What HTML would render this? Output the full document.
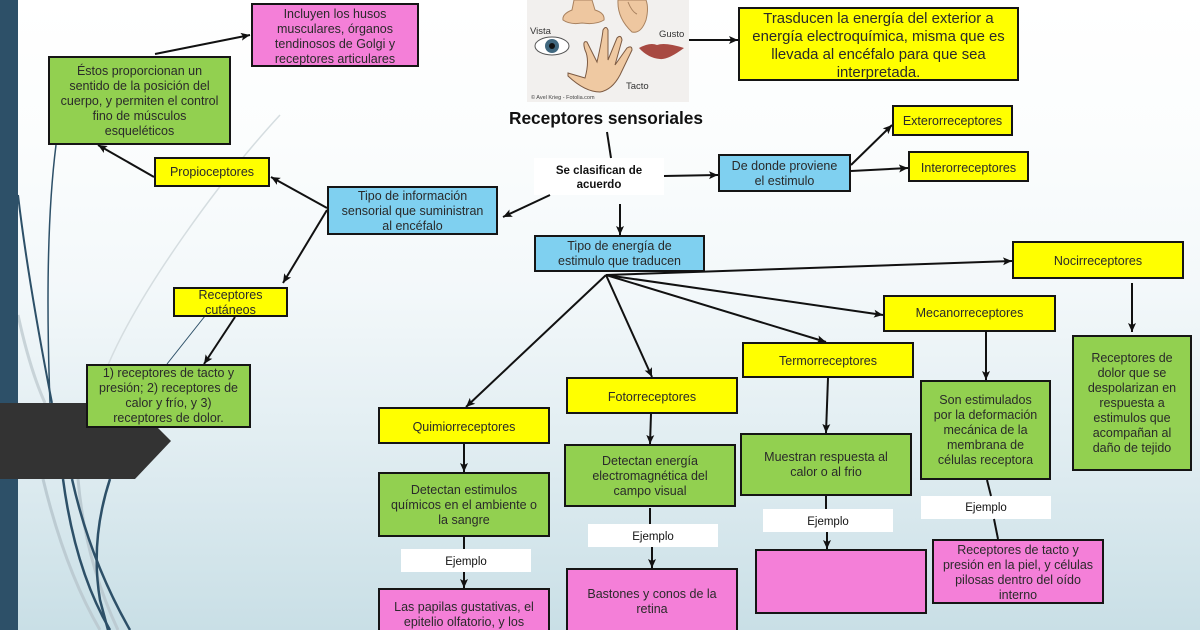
<!DOCTYPE html>
<html><head><meta charset="utf-8"><style>
html,body{margin:0;padding:0}
#p{position:relative;width:1200px;height:630px;overflow:hidden;background:linear-gradient(to bottom,#ffffff 0,#fbfdfd 140px,#f3f8fa 290px,#e4eff3 420px,#c9dfe6 630px);font-family:"Liberation Sans",sans-serif;color:#2a2a2a}
svg{position:absolute;left:0;top:0}
.b{position:absolute;box-sizing:border-box;border:2px solid #151515;display:flex;align-items:center;justify-content:center;text-align:center;font-size:12.5px;line-height:15px;padding:1px 0 0;white-space:nowrap}
.y{background:#ffff00}.g{background:#92d050}.m{background:#f47fd8}.c{background:#7fd0f0}
.w{background:#fff;border:0;color:#111}
</style></head><body><div id="p">
<svg width="1200" height="630" style="z-index:1">
<g fill="none">
<path d="M280 115C220 180 140 290 108 365" stroke="#d5dde0" stroke-width="1.5"/>
<path d="M18 315Q30 370 45 403" stroke="#c8d3d8" stroke-width="3"/>
<path d="M43 479Q65 570 100 630" stroke="#bccbd2" stroke-width="3"/>
<path d="M78 479Q85 560 118 630" stroke="#bccbd2" stroke-width="3"/>
<path d="M18 195Q28 280 52 403" stroke="#2d5068" stroke-width="2"/>
<path d="M56 145Q44 240 50 403" stroke="#2d5068" stroke-width="1.5"/>
<path d="M205 316L167 364" stroke="#2d5068" stroke-width="1"/>
<path d="M63 479Q75 570 110 630" stroke="#2d5068" stroke-width="2.5"/>
<path d="M72 479Q90 560 130 630" stroke="#2d5068" stroke-width="2.5"/>
<path d="M110 479Q90 540 100 600L108 630" stroke="#2d5068" stroke-width="2.5"/>
</g>
<rect x="0" y="0" width="18" height="630" fill="#2d5068"/>
<polygon points="0,403 133,403 171,441 135,479 0,479" fill="#333333"/>
</svg>
<svg width="1200" height="630" style="z-index:2">
<rect x="527" y="0" width="162" height="102" fill="#f2f0ee"/>
<path d="M574 0L572 10Q562 14 563 20Q570 25 582 23Q596 25 604 20Q605 13 595 10L592 0Z" fill="#eec7a0" stroke="#a9825f"/>
<path d="M618 0Q617 18 632 32Q641 34 646 20Q649 8 646 0Z" fill="#eec7a0" stroke="#a9825f"/>
<path d="M628 2Q632 12 637 14" fill="none" stroke="#a9825f"/>
<path d="M568 73L585 78Q590 60 585 50Q582 40 587 42L597 62Q602 40 603 30Q606 25 608 30L608 60L617 38Q621 34 622 40L615 65L627 48Q632 45 632 50L620 75Q612 90 600 92Q585 92 568 76Z" fill="#efc9a2" stroke="#7c5a42"/>
<ellipse cx="552" cy="46" rx="17" ry="9" fill="#fff" stroke="#555"/>
<circle cx="552" cy="46" r="7" fill="#41687f"/><circle cx="552" cy="46" r="3" fill="#111"/>
<path d="M639 48Q650 42 657 45Q665 42 684 48Q668 60 660 59Q648 58 639 48Z" fill="#a84a42"/>
<text x="530" y="34" font-size="9.5" fill="#333">Vista</text>
<text x="659" y="37" font-size="9.5" fill="#333">Gusto</text>
<text x="626" y="89" font-size="9.5" fill="#333">Tacto</text>
<text x="531" y="99" font-size="5.5" fill="#444">© Avel Krieg - Fotolia.com</text>
</svg>
<div class="b m" style="z-index:3;left:251px;top:3px;width:168px;height:64px;padding-top:3px">Incluyen los husos<br>musculares, órganos<br>tendinosos de Golgi y<br>receptores articulares</div>
<div class="b g" style="z-index:3;left:48px;top:56px;width:183px;height:89px">Éstos proporcionan un<br>sentido de la posición del<br>cuerpo, y permiten el control<br>fino de músculos<br>esqueléticos</div>
<div class="b y" style="z-index:3;left:154px;top:157px;width:116px;height:30px">Propioceptores</div>
<div class="b y" style="z-index:3;left:173px;top:287px;width:115px;height:30px;padding-top:1px">Receptores<br>cutáneos</div>
<div class="b g" style="z-index:3;left:86px;top:364px;width:165px;height:64px;padding:0 0 1px">1) receptores de tacto y<br>presión; 2) receptores de<br>calor y frío, y 3)<br>receptores de dolor.</div>
<div class="b c" style="z-index:3;left:327px;top:186px;width:171px;height:49px">Tipo de información<br>sensorial que suministran<br>al encéfalo</div>
<div class="b w" style="z-index:3;left:534px;top:158px;width:130px;height:37px;font-size:11.5px;font-weight:700;line-height:14.5px;padding-top:3px">Se clasifican de<br>acuerdo</div>
<div class="b c" style="z-index:3;left:718px;top:154px;width:133px;height:38px">De donde proviene<br>el estimulo</div>
<div class="b y" style="z-index:3;left:892px;top:105px;width:121px;height:31px">Exterorreceptores</div>
<div class="b y" style="z-index:3;left:908px;top:151px;width:121px;height:31px;padding-top:3px">Interorreceptores</div>
<div class="b c" style="z-index:3;left:534px;top:235px;width:171px;height:37px">Tipo de energía de<br>estimulo que traducen</div>
<div class="b y" style="z-index:3;left:1012px;top:241px;width:172px;height:38px;padding-top:3px">Nocirreceptores</div>
<div class="b y" style="z-index:3;left:883px;top:295px;width:173px;height:37px;padding:0 0 1px">Mecanorreceptores</div>
<div class="b y" style="z-index:3;left:742px;top:342px;width:172px;height:36px;padding-top:3px">Termorreceptores</div>
<div class="b y" style="z-index:3;left:566px;top:377px;width:172px;height:37px;padding-top:3px">Fotorreceptores</div>
<div class="b y" style="z-index:3;left:378px;top:407px;width:172px;height:37px;padding-top:3px">Quimiorreceptores</div>
<div class="b g" style="z-index:3;left:378px;top:472px;width:172px;height:65px">Detectan estimulos<br>químicos en el ambiente o<br>la sangre</div>
<div class="b w" style="z-index:3;left:401px;top:549px;width:130px;height:23px;font-size:11.5px;padding-top:4px">Ejemplo</div>
<div class="b m" style="z-index:3;left:378px;top:588px;width:172px;height:60px;align-items:flex-start;padding:10px 0 0">Las papilas gustativas, el<br>epitelio olfatorio, y los</div>
<div class="b g" style="z-index:3;left:564px;top:444px;width:172px;height:63px">Detectan energía<br>electromagnética del<br>campo visual</div>
<div class="b w" style="z-index:3;left:588px;top:524px;width:130px;height:23px;font-size:11.5px;padding-top:4px">Ejemplo</div>
<div class="b m" style="z-index:3;left:566px;top:568px;width:172px;height:80px;align-items:flex-start;padding:17px 0 0">Bastones y conos de la<br>retina</div>
<div class="b g" style="z-index:3;left:740px;top:433px;width:172px;height:63px;align-items:flex-start;padding:15px 0 0">Muestran respuesta al<br>calor o al frio</div>
<div class="b w" style="z-index:3;left:763px;top:509px;width:130px;height:23px;font-size:11.5px;padding-top:4px">Ejemplo</div>
<div class="b m" style="z-index:3;left:755px;top:549px;width:172px;height:65px"></div>
<div class="b g" style="z-index:3;left:920px;top:380px;width:131px;height:100px">Son estimulados<br>por la deformación<br>mecánica de la<br>membrana de<br>células receptora</div>
<div class="b w" style="z-index:3;left:921px;top:496px;width:130px;height:23px;font-size:11.5px;padding-top:2px">Ejemplo</div>
<div class="b m" style="z-index:3;left:932px;top:539px;width:172px;height:65px;padding-top:3px">Receptores de tacto y<br>presión en la piel, y células<br>pilosas dentro del oído<br>interno</div>
<div class="b g" style="z-index:3;left:1072px;top:335px;width:120px;height:136px">Receptores de<br>dolor que se<br>despolarizan en<br>respuesta a<br>estimulos que<br>acompañan al<br>daño de tejido</div>
<div class="b y" style="z-index:3;left:738px;top:7px;width:281px;height:74px;font-size:14.9px;line-height:18px;padding:3px 0 0">Trasducen la energía del exterior a<br>energía electroquímica, misma que es<br>llevada al encéfalo para que sea<br>interpretada.</div>
<div style="position:absolute;z-index:3;left:480px;width:252px;top:108px;text-align:center;font-weight:700;font-size:17.3px;line-height:20px;color:#111">Receptores sensoriales</div>
<svg width="1200" height="630" style="z-index:4">
<defs><marker id="a" markerUnits="userSpaceOnUse" markerWidth="10" markerHeight="10" refX="9" refY="5" orient="auto"><path d="M0 1L9 5L0 9L2 5Z" fill="#111"/></marker></defs>
<g stroke="#111" stroke-width="2" fill="none">
<path d="M155 54L250 35" marker-end="url(#a)"/>
<path d="M154 177L98 145" marker-end="url(#a)"/>
<path d="M327 208L271 177" marker-end="url(#a)"/>
<path d="M327 210L283 283" marker-end="url(#a)"/>
<path d="M235 317L204 364" marker-end="url(#a)"/>
<path d="M664 176L718 175" marker-end="url(#a)"/>
<path d="M550 195L503 217" marker-end="url(#a)"/>
<path d="M620 204L620 235" marker-end="url(#a)"/>
<path d="M689 40L738 40" marker-end="url(#a)"/>
<path d="M851 165L892 125" marker-end="url(#a)"/>
<path d="M851 171L908 168" marker-end="url(#a)"/>
<path d="M606 275L1012 261" marker-end="url(#a)"/>
<path d="M606 275L883 315" marker-end="url(#a)"/>
<path d="M606 275L826 342" marker-end="url(#a)"/>
<path d="M606 275L652 377" marker-end="url(#a)"/>
<path d="M606 275L466 407" marker-end="url(#a)"/>
<path d="M464 444L464 472" marker-end="url(#a)"/>
<path d="M464 572L464 588" marker-end="url(#a)"/>
<path d="M651 414L650 444" marker-end="url(#a)"/>
<path d="M652 547L652 568" marker-end="url(#a)"/>
<path d="M828 378L826 433" marker-end="url(#a)"/>
<path d="M827 532L827 549" marker-end="url(#a)"/>
<path d="M986 331L986 380" marker-end="url(#a)"/>
<path d="M1132 283L1132 332" marker-end="url(#a)"/>
<path d="M607 132L611 158"/>
<path d="M464 537L464 549"/>
<path d="M650 508L650 524"/>
<path d="M826 496L826 509"/>
<path d="M987 480L991 496"/>
<path d="M994 519L998 539"/>
</g>
</svg>
</div></body></html>
